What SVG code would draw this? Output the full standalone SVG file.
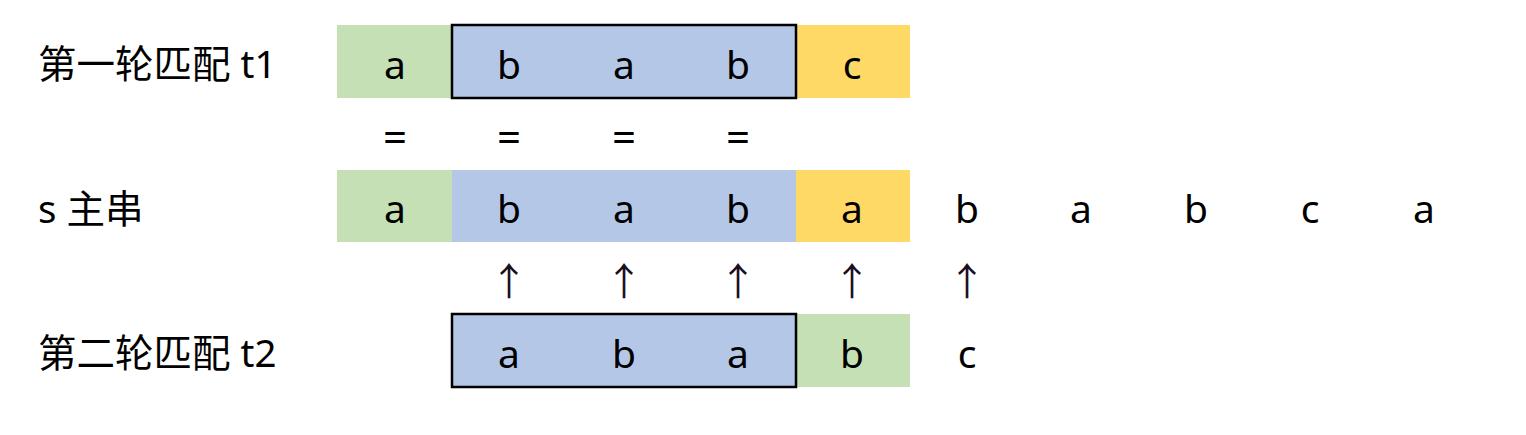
<svg xmlns="http://www.w3.org/2000/svg" width="1526" height="435" viewBox="0 0 1526 435">
<style>
.lbl{font-family:"Noto Sans","Noto Sans CJK SC",sans-serif;font-size:38.5px;fill:#000}
.ch{font-family:"Noto Sans","Noto Sans CJK SC",sans-serif;font-size:39px;fill:#000;text-anchor:middle}
.eq{font-family:"Noto Sans","Noto Sans CJK SC",sans-serif;font-size:42px;fill:#000;text-anchor:middle}
.arr{font-family:"Noto Sans CJK SC",sans-serif;font-size:38px;fill:#1a0f1f;text-anchor:middle}
.g{fill:#C5E0B4}.b{fill:#B4C7E7}.y{fill:#FFD966}
.box{fill:none;stroke:#000;stroke-width:2.5}
</style>
<rect width="1526" height="435" fill="#fff"/>
<g id="labels">
<text class="lbl" x="38" y="78">第一轮匹配 t1</text>
<text class="lbl" x="38" y="223">s 主串</text>
<text class="lbl" x="38" y="367">第二轮匹配 t2</text>
</g>
<g id="row-t1">
<rect class="g" x="337" y="25" width="115" height="73"/>
<rect class="b" x="452" y="25" width="344" height="73"/>
<rect class="y" x="796" y="25" width="114" height="73"/>
<rect class="box" x="452" y="25" width="344" height="73"/>
<text class="ch" x="395" y="79">a</text>
<text class="ch" x="509" y="79">b</text>
<text class="ch" x="624" y="79">a</text>
<text class="ch" x="738" y="79">b</text>
<text class="ch" x="852" y="79">c</text>
</g>
<g id="equals">
<text class="eq" x="395" y="152">=</text>
<text class="eq" x="509" y="152">=</text>
<text class="eq" x="624" y="152">=</text>
<text class="eq" x="738" y="152">=</text>
</g>
<g id="row-s">
<rect class="g" x="337" y="170" width="115" height="72"/>
<rect class="b" x="452" y="170" width="344" height="72"/>
<rect class="y" x="796" y="170" width="114" height="72"/>
<text class="ch" x="395" y="223">a</text>
<text class="ch" x="509" y="223">b</text>
<text class="ch" x="624" y="223">a</text>
<text class="ch" x="738" y="223">b</text>
<text class="ch" x="852" y="223">a</text>
<text class="ch" x="967" y="223">b</text>
<text class="ch" x="1081" y="223">a</text>
<text class="ch" x="1196" y="223">b</text>
<text class="ch" x="1310" y="223">c</text>
<text class="ch" x="1424" y="223">a</text>
</g>
<g id="arrows">
<text class="arr" x="509" y="295">↑</text>
<text class="arr" x="624" y="295">↑</text>
<text class="arr" x="738" y="295">↑</text>
<text class="arr" x="852" y="295">↑</text>
<text class="arr" x="967" y="295">↑</text>
</g>
<g id="row-t2">
<rect class="b" x="452" y="314" width="344" height="73"/>
<rect class="g" x="796" y="314" width="114" height="73"/>
<rect class="box" x="452" y="314" width="344" height="73"/>
<text class="ch" x="509" y="368">a</text>
<text class="ch" x="624" y="368">b</text>
<text class="ch" x="738" y="368">a</text>
<text class="ch" x="852" y="368">b</text>
<text class="ch" x="967" y="368">c</text>
</g>
</svg>
